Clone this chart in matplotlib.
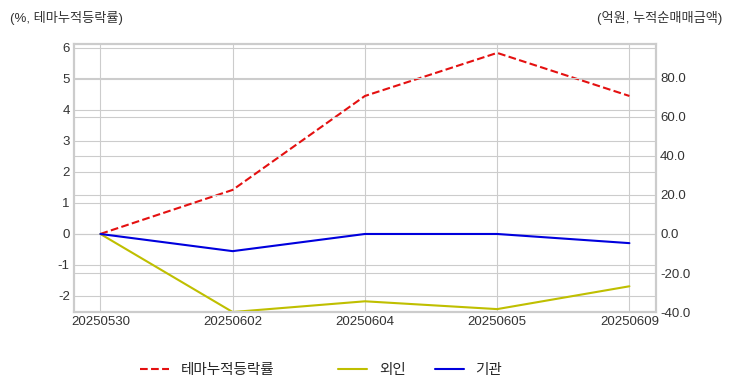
import numpy as np
import matplotlib
matplotlib.use("Agg")
import matplotlib.pyplot as plt
from matplotlib.ticker import FormatStrFormatter

dates = ["20250530", "20250602", "20250604", "20250605", "20250609"]
theme_ret = [0.0, 1.42, 4.45, 5.84, 4.45]
foreign = [0.0, -40.0, -34.5, -38.5, -26.8]
institution = [0.0, -8.8, 0.0, 0.0, -4.7]

plt.style.use("seaborn-v0_8-whitegrid")
plt.rcParams["font.family"] = ["Liberation Sans", "Noto Sans CJK KR", "DejaVu Sans"]
plt.rcParams["axes.unicode_minus"] = False

fig = plt.figure(figsize=(7.32, 3.92), dpi=100)
ax = fig.add_axes([0.101, 0.204, 0.795, 0.684])
ax2 = ax.twinx()

x = np.arange(len(dates))
l1, = ax.plot(x, theme_ret, color="#e41010", linestyle="--", linewidth=1.5, label="테마누적등락률")
l2, = ax2.plot(x, foreign, color="#bfbf00", linewidth=1.5, label="외인")
l3, = ax2.plot(x, institution, color="#0000dd", linewidth=1.5, label="기관")

ax.set_xlim(-0.2, 4.2)
ax.set_ylim(-2.52, 6.13)
ax2.set_ylim(-40, 97.4)
ax.set_xticks(x)
ax.set_xticklabels(dates)
ax.set_yticks(range(-2, 7))
ax2.set_yticks(range(-40, 81, 20))
ax2.yaxis.set_major_formatter(FormatStrFormatter("%.1f"))

for a in (ax, ax2):
    a.tick_params(labelsize=9.5, colors="#333333", pad=3)
    for s in a.spines.values():
        s.set_color("#cccccc")
        s.set_linewidth(1.5)
ax2.grid(True, color="#cccccc", linewidth=0.8)
ax.grid(True, color="#cccccc", linewidth=0.8)

fig.text(0.013, 0.955, "(%, 테마누적등락률)", fontsize=9.5, color="#333333", ha="left", va="center")
fig.text(0.986, 0.955, "(억원, 누적순매매금액)", fontsize=9.5, color="#333333", ha="right", va="center")

fig.legend(handles=[l1], loc="center", bbox_to_anchor=(0.283, 0.056), frameon=False, fontsize=10.5,
           handlelength=2.0)
fig.legend(handles=[l2, l3], loc="center", bbox_to_anchor=(0.574, 0.056), frameon=False, fontsize=10.5,
           ncol=2, handlelength=2.0, columnspacing=2.0)

fig.savefig("out.png", dpi=100)
